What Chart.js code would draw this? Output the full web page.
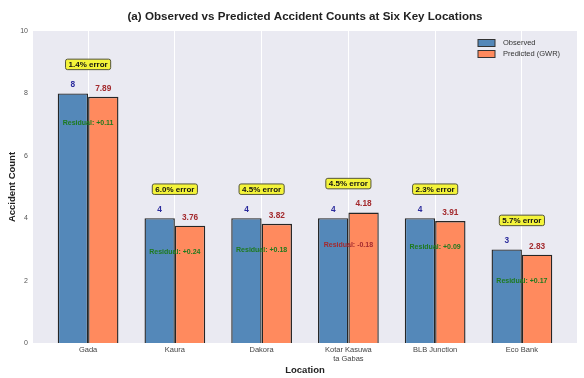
<!DOCTYPE html>
<html>
<head>
<meta charset="utf-8">
<script src="https://cdn.jsdelivr.net/npm/chart.js@4/dist/chart.umd.min.js"></script>
<style>
  html, body { margin: 0; padding: 0; background: #ffffff; }
  #wrap { width: 584px; height: 378px; }
</style>
</head>
<body>
<div id="wrap"><canvas id="c" width="584" height="378"></canvas></div>
<script>
// Locations and accident counts
const locations = ['Gada', 'Kaura', 'Dakora', ['Kotar Kasuwa', 'ta Gabas'], 'BLB Junction', 'Eco Bank'];
const observed = [8, 4, 4, 4, 4, 3];
const predicted = [7.89, 3.76, 3.82, 4.18, 3.91, 2.83];
const yTicks = [0, 2, 4, 6, 8, 10];

const FONT = "'Liberation Sans', Arial, Helvetica, sans-serif";
const BLUE = '#5488b9';
const ORANGE = '#ff8a5e';
const PLOT_BG = '#eaeaf2';

// Plot background
const bgPlugin = {
  id: 'plotBg',
  beforeDraw(chart) {
    const { ctx, chartArea: a } = chart;
    ctx.save();
    ctx.fillStyle = PLOT_BG;
    ctx.fillRect(a.left, a.top, a.right - a.left, a.bottom - a.top);
    ctx.restore();
  }
};

// Value labels, residuals and error boxes
const annotatePlugin = {
  id: 'annotate',
  afterDatasetsDraw(chart) {
    const { ctx } = chart;
    const xs = chart.scales.x, ys = chart.scales.y;
    ctx.save();
    ctx.textAlign = 'center';
    ctx.textBaseline = 'middle';
    observed.forEach((obs, i) => {
      const pred = predicted[i];
      const cx = xs.getPixelForValue(i);
      // bar value labels
      ctx.font = `bold 8.3px ${FONT}`;
      ctx.fillStyle = '#2a2a9c';
      ctx.fillText(String(obs), xs.getPixelForValue(i - 0.175), ys.getPixelForValue(obs + 0.27));
      ctx.fillStyle = '#a32a2e';
      ctx.fillText(pred.toFixed(2), xs.getPixelForValue(i + 0.175), ys.getPixelForValue(pred + 0.27));
      // residual text
      const res = Math.round((obs - pred) * 100) / 100;
      ctx.font = `bold 7px ${FONT}`;
      ctx.fillStyle = res >= 0 ? '#1e7a1e' : '#a32a2e';
      const resTxt = 'Residual: ' + (res >= 0 ? '+' : '') + res.toFixed(2);
      ctx.fillText(resTxt, cx, ys.getPixelForValue(Math.min(obs, pred) - 0.85));
      // error box
      const err = Math.round(Math.abs(res) / obs * 1000 + 1e-6) / 10;
      const txt = err.toFixed(1) + '% error';
      ctx.font = `bold 8px ${FONT}`;
      const w = ctx.measureText(txt).width + 6;
      const h = 10.5;
      const by = ys.getPixelForValue(Math.max(obs, pred) + 0.93);
      ctx.beginPath();
      ctx.roundRect(cx - w / 2, by - h / 2, w, h, 2);
      ctx.fillStyle = '#f4f43a';
      ctx.fill();
      ctx.lineWidth = 1;
      ctx.strokeStyle = '#55553a';
      ctx.stroke();
      ctx.fillStyle = '#111111';
      ctx.fillText(txt, cx, by + 0.5);
    });
    ctx.restore();
  }
};

// Legend inside the plot, top right
const legendPlugin = {
  id: 'innerLegend',
  afterDraw(chart) {
    const { ctx } = chart;
    ctx.save();
    ctx.font = `7.5px ${FONT}`;
    ctx.textBaseline = 'middle';
    ctx.textAlign = 'left';
    chart.data.datasets.forEach((ds, k) => {
      const y = 43 + k * 11;
      ctx.fillStyle = ds.backgroundColor;
      ctx.fillRect(478, y - 3.5, 17, 7);
      ctx.lineWidth = 1;
      ctx.strokeStyle = '#333333';
      ctx.strokeRect(478, y - 3.5, 17, 7);
      ctx.fillStyle = '#333333';
      ctx.fillText(ds.label, 503, y);
    });
    ctx.restore();
  }
};

new Chart(document.getElementById('c'), {
  type: 'bar',
  data: {
    datasets: [
      {
        label: 'Observed',
        data: observed.map((v, i) => ({ x: i, y: v })),
        backgroundColor: BLUE,
        borderColor: '#262626',
        borderWidth: 1.4,
        categoryPercentage: 0.7,
        barPercentage: 1.0
      },
      {
        label: 'Predicted (GWR)',
        data: predicted.map((v, i) => ({ x: i, y: v })),
        backgroundColor: ORANGE,
        borderColor: '#262626',
        borderWidth: 1.4,
        categoryPercentage: 0.7,
        barPercentage: 1.0
      }
    ]
  },
  options: {
    responsive: false,
    animation: false,
    devicePixelRatio: 1,
    layout: { padding: { left: 0, right: 7, top: 0, bottom: 0 } },
    plugins: {
      legend: { display: false },
      tooltip: { enabled: false },
      title: {
        display: true,
        fullSize: false,
        text: '(a) Observed vs Predicted Accident Counts at Six Key Locations',
        color: '#222222',
        font: { family: FONT, size: 11.6, weight: 'bold', lineHeight: 1.2 },
        padding: { top: 10, bottom: 7.1 }
      }
    },
    scales: {
      x: {
        type: 'linear',
        offset: false,
        min: -0.635,
        max: 5.635,
        afterBuildTicks(scale) {
          scale.ticks = locations.map((_, i) => ({ value: i }));
        },
        afterFit(scale) { scale.height = 35; },
        border: { display: false },
        grid: { color: '#ffffff', lineWidth: 1, drawTicks: false, offset: false },
        ticks: {
          autoSkip: false,
          maxRotation: 0,
          padding: 3,
          color: '#444444',
          font: { family: FONT, size: 7.5, lineHeight: 1.15 },
          callback: (v) => locations[v]
        },
        title: {
          display: true,
          text: 'Location',
          color: '#222222',
          font: { family: FONT, size: 9.5, weight: 'bold', lineHeight: 1.2 },
          padding: { top: 0, bottom: 2.3 }
        }
      },
      y: {
        min: 0,
        max: 10,
        afterBuildTicks(scale) {
          scale.ticks = yTicks.map(v => ({ value: v }));
        },
        afterFit(scale) { scale.width = 33; },
        border: { display: false },
        grid: { display: false, drawTicks: false },
        ticks: {
          padding: 5,
          color: '#555555',
          font: { family: FONT, size: 7 }
        },
        title: {
          display: true,
          text: 'Accident Count',
          color: '#222222',
          font: { family: FONT, size: 9.5, weight: 'bold', lineHeight: 1.2 },
          padding: { top: 6.3, bottom: 0 }
        }
      }
    }
  },
  plugins: [bgPlugin, annotatePlugin, legendPlugin]
});
</script>
</body>
</html>
